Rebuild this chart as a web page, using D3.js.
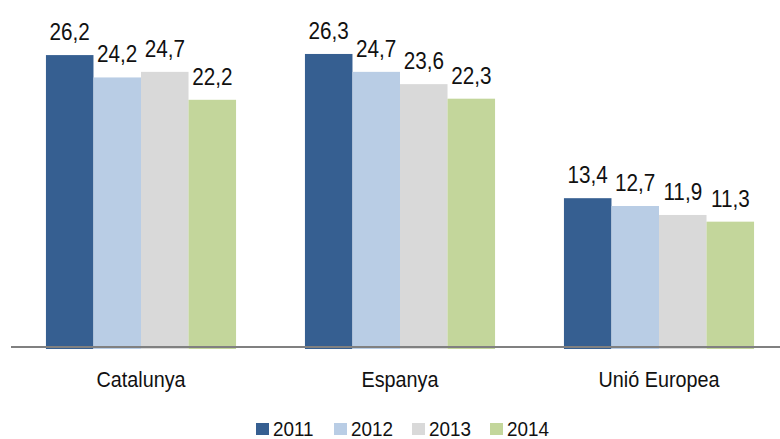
<!DOCTYPE html>
<html>
<head>
<meta charset="utf-8">
<script src="https://cdn.jsdelivr.net/npm/d3@7"></script>
<style>
  body { margin: 0; background: #fff; }
  text { font-family: "Liberation Sans", Arial, sans-serif; fill: #111; }
</style>
</head>
<body>
<div id="chart"></div>
<script>
// dades
const categories = ["Catalunya", "Espanya", "Unió Europea"]
const years = ["2011", "2012", "2013", "2014"]
const values2011 = [26.2, 26.3, 13.4]
const values2012 = [24.2, 24.7, 12.7]
const values2013 = [24.7, 23.6, 11.9]
const values2014 = [22.2, 22.3, 11.3]
const colors = ["#365f91", "#b9cde5", "#d9d9d9", "#c3d69b"]

const series = [values2011, values2012, values2013, values2014]
const data = categories.map((c, i) => ({
    cat: c,
    vals: years.map((y, j) => ({ year: y, value: series[j][i], color: colors[j] }))
}))

const width = 780
const height = 439
const base = 348

const svg = d3.select("#chart").append("svg").attr("width", width).attr("height", height)

// escales
const x0 = d3.scaleBand().domain(categories).range([11.5, 788.5]).paddingInner(0.266).paddingOuter(0.133)
const x1 = d3.scaleBand().domain(years).range([0, x0.bandwidth()])
const y = d3.scaleLinear().domain([0, 30]).range([base, base - 30 * 11.18])

const groups = svg.selectAll("g.grp").data(data).join("g")
    .attr("class", "grp")
    .attr("transform", d => `translate(${x0(d.cat)},0)`)

groups.selectAll("rect").data(d => d.vals).join("rect")
    .attr("x", d => x1(d.year))
    .attr("y", d => y(d.value))
    .attr("width", x1.bandwidth())
    .attr("height", d => y(0) - y(d.value) + 1)
    .attr("fill", d => d.color)

groups.selectAll("text").data(d => d.vals).join("text")
    .attr("transform", d => `translate(${x1(d.year) + x1.bandwidth() / 2},${y(d.value) - 15}) scale(0.9,1)`)
    .attr("text-anchor", "middle")
    .style("font-size", "23px")
    .text(d => d3.format(".1f")(d.value).replace(".", ","))

// eix
svg.append("line")
    .attr("x1", 11).attr("x2", width)
    .attr("y1", base - 1).attr("y2", base - 1)
    .attr("stroke", "#808080").attr("stroke-width", 2)

svg.selectAll("text.cat").data(categories).join("text")
    .attr("class", "cat")
    .attr("transform", d => `translate(${x0(d) + x0.bandwidth() / 2},387) scale(0.9,1)`)
    .attr("text-anchor", "middle")
    .style("font-size", "22px")
    .text(d => d)

// llegenda
const legend = svg.selectAll("g.leg").data(years).join("g")
    .attr("class", "leg")
    .attr("transform", (d, i) => `translate(${256 + i * 78},0)`)
legend.append("rect")
    .attr("x", 0).attr("y", 423).attr("width", 13).attr("height", 12)
    .attr("fill", (d, i) => colors[i])
legend.append("text")
    .attr("transform", "translate(17,436) scale(0.9,1)")
    .style("font-size", "21px")
    .text(d => d)
</script>
</body>
</html>
